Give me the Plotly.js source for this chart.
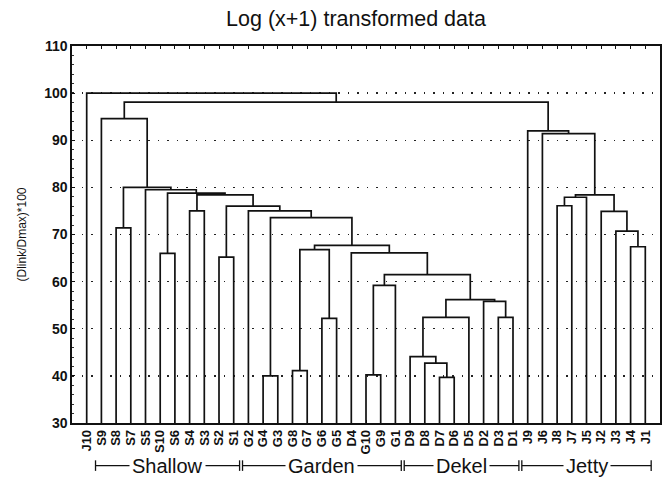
<!DOCTYPE html>
<html>
<head>
<meta charset="utf-8">
<script src="https://cdn.plot.ly/plotly-3.0.1.min.js"></script>
<style>html,body{margin:0;padding:0;background:#fff;}#chart{width:664px;height:481px;}</style>
</head>
<body>
<div id="chart"></div>
<script>
// Leaf order along the x axis
const leaves = ["J10","S9","S8","S7","S5","S10","S6","S4","S3","S2","S1",
  "G2","G4","G3","G8","G7","G6","G5","D4","G10","G9","G1",
  "D9","D8","D7","D6","D5","D2","D3","D1",
  "J9","J6","J8","J7","J5","J2","J3","J4","J1"];

// Merges: node k (named "n"+(k+1)) joins mergeLeft[k] and mergeRight[k] at mergeHeight[k]
const mergeLeft  = ["D7","D8","D9","n3","D3","D2","n4","G10","n8","n9","D4","G8","G6","n12","n14","G4","n16","G2","S2","n19","S4","n21","S10","n23","S5","S8","n26","S9",
                    "J4","J3","J2","J8","n32","n33","J6","J9","n28","J10"];
const mergeRight = ["D6","n1","n2","D5","D1","n5","n6","G9","G1","n7","n10","G7","G5","n13","n11","G3","n15","n17","S1","n18","S3","n20","S6","n22","n24","S7","n25","n27",
                    "J1","n29","n30","J7","J5","n31","n34","n35","n36","n37"];
const mergeHeight = [39.7,42.7,44.1,52.4,52.4,55.8,56.2,40.2,59.2,61.5,66.1,41.1,52.2,66.8,67.7,40.0,73.6,75.0,65.2,76.0,75.0,78.4,66.0,78.8,79.5,71.4,80.0,94.6,
                     67.4,70.7,74.9,76.1,77.9,78.4,91.4,92.0,98.1,100.0];

// Site groups shown under the axis (range given as leaf index span)
const groupNames = ["Shallow","Garden","Dekel","Jetty"];
const groupStart = [0.5,10.5,21.5,29.5];
const groupEnd   = [10.5,21.5,29.5,38.5];

const yTickVals = [30,40,50,60,70,80,90,100,110];
const yMin = 30, yMax = 110;

// Build dendrogram segments
const pos = {}, hgt = {};
leaves.forEach((l,i)=>{pos[l]=i; hgt[l]=yMin;});
const xs=[], ys=[];
for(let k=0;k<mergeHeight.length;k++){
  const a=mergeLeft[k], b=mergeRight[k], H=mergeHeight[k];
  xs.push(pos[a],pos[a],pos[b],pos[b],null);
  ys.push(hgt[a],H,H,hgt[b],null);
  const name="n"+(k+1);
  pos[name]=(pos[a]+pos[b])/2; hgt[name]=H;
}

const trace = {x:xs,y:ys,mode:'lines',type:'scatter',line:{color:'#111',width:1.7},
  hoverinfo:'skip',showlegend:false,connectgaps:false};

const FONT='Liberation Sans, Arial, sans-serif';
// group brackets
const shapes=[], annotations=[];
const gY=-0.113, cap=0.014, gap=0.1;
groupNames.forEach((g,i)=>{
  const x0=groupStart[i]+gap, x1=groupEnd[i]-gap;
  const ln={color:'#111',width:1.3};
  shapes.push({type:'line',xref:'x',yref:'paper',x0:x0,x1:x1,y0:gY,y1:gY,line:ln});
  shapes.push({type:'line',xref:'x',yref:'paper',x0:x0,x1:x0,y0:gY-cap,y1:gY+cap,line:ln});
  shapes.push({type:'line',xref:'x',yref:'paper',x0:x1,x1:x1,y0:gY-cap,y1:gY+cap,line:ln});
  annotations.push({text:g,xref:'x',yref:'paper',x:(groupStart[i]+groupEnd[i])/2,y:gY,
    showarrow:false,bgcolor:'#fff',borderpad:2,xanchor:'center',yanchor:'middle',
    font:{family:FONT,size:20,color:'#111'}});
});

const layout = {
  width:664,height:481,
  margin:{l:71.5,r:4,t:45.7,b:57.7},
  paper_bgcolor:'#fff',plot_bgcolor:'#fff',
  title:{text:'Log (x+1) transformed data',x:0.483,xref:'paper',y:0.962,yanchor:'middle',
    font:{family:FONT,size:21.5,color:'#111'}},
  xaxis:{range:[-1,39],tickvals:leaves.map((l,i)=>i),ticktext:leaves,tickangle:-90,
    showgrid:false,zeroline:false,showline:true,linecolor:'#111',linewidth:1.7,mirror:'ticks',
    ticks:'inside',ticklen:3,tickcolor:'#111',
    tickfont:{family:FONT,size:13,color:'#111',weight:'bold'}},
  yaxis:{range:[yMin,yMax],tickvals:yTickVals,showgrid:true,gridcolor:'#222',gridwidth:1.3,
    griddash:'1.5px,8px',zeroline:false,showline:true,linecolor:'#111',linewidth:1.7,mirror:true,
    ticks:'inside',ticklen:3,tickcolor:'#111',
    minor:{dtick:2,ticks:'inside',ticklen:2,tickcolor:'#333',showgrid:false},
    tickfont:{family:FONT,size:14,color:'#111',weight:'bold'},
    title:{text:'(Dlink/Dmax)*100',standoff:15,font:{family:FONT,size:12,color:'#111'}}},
  shapes:shapes,annotations:annotations
};
Plotly.newPlot('chart',[trace],layout,{displayModeBar:false,staticPlot:true});
</script>
</body>
</html>
